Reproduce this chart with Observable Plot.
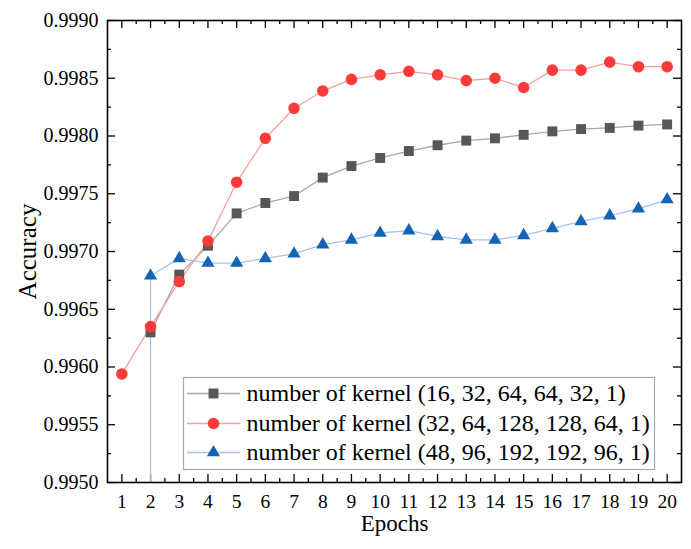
<!DOCTYPE html>
<html><head><meta charset="utf-8">
<script src="https://cdn.jsdelivr.net/npm/d3@7"></script>
<script src="https://cdn.jsdelivr.net/npm/@observablehq/plot@0.6"></script>
<style>body{margin:0;background:#fff}</style>
</head><body><div id="chart"></div>
<script>
const epochs = [1,2,3,4,5,6,7,8,9,10,11,12,13,14,15,16,17,18,19,20];
const seriesNames = [
  "number of kernel (16, 32, 64, 64, 32, 1)",
  "number of kernel (32, 64, 128, 128, 64, 1)",
  "number of kernel (48, 96, 192, 192, 96, 1)"
];
const accGray = [null, 0.99630, 0.99680, 0.99705, 0.99733, 0.99742, 0.99748, 0.99764, 0.99774, 0.99781, 0.99787, 0.99792, 0.99796, 0.99798, 0.99801, 0.99804, 0.99806, 0.99807, 0.99809, 0.99810];
const accRed = [0.99594, 0.99635, 0.99674, 0.99709, 0.99760, 0.99798, 0.99824, 0.99839, 0.99849, 0.99853, 0.99856, 0.99853, 0.99848, 0.99850, 0.99842, 0.99857, 0.99857, 0.99864, 0.99860, 0.99860];
const accBlue = [null, 0.99679, 0.99694, 0.99690, 0.99690, 0.99694, 0.99698, 0.99706, 0.99710, 0.99716, 0.99718, 0.99713, 0.99710, 0.99710, 0.99714, 0.99720, 0.99726, 0.99731, 0.99737, 0.99745];
const yTicks = [0.9950, 0.9955, 0.9960, 0.9965, 0.9970, 0.9975, 0.9980, 0.9985, 0.9990];
const yMinorTicks = [0.99525, 0.99575, 0.99625, 0.99675, 0.99725, 0.99775, 0.99825, 0.99875];
const xMinorTicks = [1.5,2.5,3.5,4.5,5.5,6.5,7.5,8.5,9.5,10.5,11.5,12.5,13.5,14.5,15.5,16.5,17.5,18.5,19.5];

const markerColors = ["#575757", "#ff3a3a", "#1563b6"];
const lineColors = ["#a9a9a9", "#f5a0a0", "#a6c3e6"];
const symbols = ["square", "circle", "triangle"];
const radii = [5.6, 5.8, 4.9];
const FONT = "'Liberation Serif', 'Times New Roman', serif";

const W = 691, H = 549, mL = 107, mT = 20, mR = 10, mB = 67;
const pw = W - mL - mR, ph = H - mT - mB;

const values = [accGray, accRed, accBlue];
const rows = seriesNames.flatMap((s, si) => epochs.map((e, i) => ({epoch: e, acc: values[si][i], series: si})))
  .filter(d => d.acc != null);
const blueStart = rows.filter(d => d.series === 2)[0];

const lineShape = {draw(context, l) { context.moveTo(0, 0); context.lineTo(0, -l); }};
const legendRowDy = [89, 59, 30];

const marks = [];
// inward ticks
marks.push(
  Plot.ruleX(epochs, {insetTop: ph - 8, strokeWidth: 1.3}),
  Plot.ruleX(xMinorTicks, {insetTop: ph - 4, strokeWidth: 1.3}),
  Plot.ruleX(epochs, {insetBottom: ph - 8, strokeWidth: 1.3}),
  Plot.ruleX(xMinorTicks, {insetBottom: ph - 4, strokeWidth: 1.3}),
  Plot.ruleY(yTicks, {insetRight: pw - 8, strokeWidth: 1.3}),
  Plot.ruleY(yMinorTicks, {insetRight: pw - 4, strokeWidth: 1.3}),
  Plot.ruleY(yTicks, {insetLeft: pw - 8, strokeWidth: 1.3}),
  Plot.ruleY(yMinorTicks, {insetLeft: pw - 4, strokeWidth: 1.3})
);
// data
marks.push(Plot.ruleX([blueStart], {x: "epoch", y1: () => yTicks[0], y2: "acc", stroke: lineColors[2], strokeWidth: 1.3}));
[0, 1, 2].forEach(si => {
  marks.push(Plot.line(rows.filter(d => d.series === si), {x: "epoch", y: "acc", stroke: lineColors[si], strokeWidth: 1.3}));
});
[0, 1, 2].forEach(si => {
  marks.push(Plot.dot(rows.filter(d => d.series === si), {x: "epoch", y: "acc", symbol: () => symbols[si], r: radii[si], fill: markerColors[si], stroke: "none"}));
});
// legend
marks.push(Plot.frame({insetLeft: 76, insetRight: pw - 76 - 471, insetTop: ph - 105, insetBottom: 13, stroke: "#a8a8a8", fill: "white", strokeWidth: 1.2}));
[0, 1, 2].forEach(si => {
  marks.push(
    Plot.vector([0], {frameAnchor: "bottom-left", dx: 80, dy: -legendRowDy[si], rotate: 90, length: 52, anchor: "start", shape: lineShape, stroke: lineColors[si], strokeWidth: 1.3}),
    Plot.dot([0], {frameAnchor: "bottom-left", dx: 106, dy: -legendRowDy[si], symbol: symbols[si], r: radii[si], fill: markerColors[si], stroke: "none"}),
    Plot.text([seriesNames[si]], {frameAnchor: "bottom-left", dx: 139, dy: -legendRowDy[si], text: d => d, textAnchor: "start", lineAnchor: "middle", fontSize: 24, fontFamily: FONT, fill: "black"})
  );
});
// tick labels and axis titles
marks.push(
  Plot.text(yTicks, {y: d => d, frameAnchor: "left", dx: -9, text: d => d.toFixed(4), textAnchor: "end", lineAnchor: "middle", fontSize: 20, fontFamily: FONT, fill: "black"}),
  Plot.text(epochs, {x: d => d, frameAnchor: "bottom", dy: 19, text: d => String(d), textAnchor: "middle", lineAnchor: "middle", fontSize: 19.5, fontFamily: FONT, fill: "black"}),
  Plot.text(["Epochs"], {frameAnchor: "bottom", dy: 41, text: d => d, textAnchor: "middle", lineAnchor: "middle", fontSize: 23, fontFamily: FONT, fill: "black"}),
  Plot.text(["Accuracy"], {frameAnchor: "left", dx: -80, rotate: -90, text: d => d, textAnchor: "middle", lineAnchor: "middle", fontSize: 25, fontFamily: FONT, fill: "black"}),
  Plot.frame({stroke: "black", strokeWidth: 1.6})
);

const chart = Plot.plot({
  width: W, height: H,
  marginLeft: mL, marginTop: mT, marginRight: mR, marginBottom: mB,
  style: {fontFamily: FONT, color: "black", background: "white"},
  x: {domain: [0.5, 20.5], axis: null},
  y: {domain: [yTicks[0], yTicks[yTicks.length - 1]], axis: null},
  marks
});
document.getElementById("chart").appendChild(chart);
</script>
</body></html>
